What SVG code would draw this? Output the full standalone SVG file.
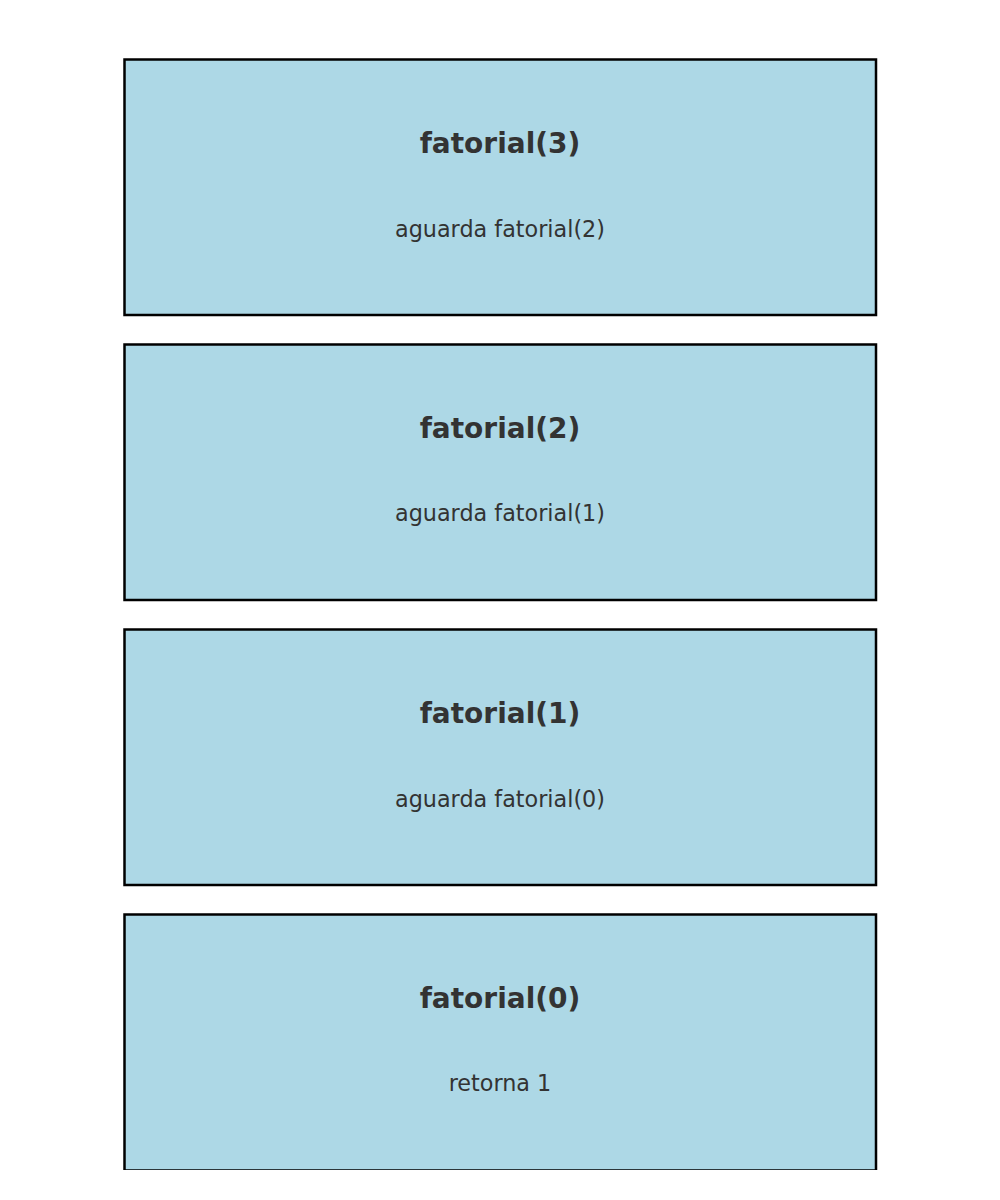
<svg xmlns="http://www.w3.org/2000/svg" width="1000" height="1200" viewBox="0 0 1000 1200">
<style>
.box{fill:#add8e6;stroke:#000;stroke-width:2.5}
.t{font-family:"DejaVu Sans",sans-serif;font-size:28px;font-weight:bold;fill:#333;text-anchor:middle}
.s{font-family:"DejaVu Sans",sans-serif;font-size:22.3px;fill:#333;text-anchor:middle}
</style>
<defs><clipPath id="c"><rect x="0" y="0" width="1000" height="1170"/></clipPath></defs>
<rect width="1000" height="1200" fill="#fff"/>
<g clip-path="url(#c)">
<g id="f3"><rect class="box" x="124.5" y="59.5" width="751.5" height="255.5"/><text class="t" x="500" y="153">fatorial(3)</text><text class="s" x="500" y="237">aguarda fatorial(2)</text></g>
<g id="f2"><rect class="box" x="124.5" y="344.5" width="751.5" height="255.5"/><text class="t" x="500" y="438">fatorial(2)</text><text class="s" x="500" y="521">aguarda fatorial(1)</text></g>
<g id="f1"><rect class="box" x="124.5" y="629.5" width="751.5" height="255.5"/><text class="t" x="500" y="723">fatorial(1)</text><text class="s" x="500" y="807">aguarda fatorial(0)</text></g>
<g id="f0"><rect class="box" x="124.5" y="914.5" width="751.5" height="256"/><text class="t" x="500" y="1008">fatorial(0)</text><text class="s" x="500" y="1091">retorna 1</text></g>
</g>
<g id="connectors"/>
</svg>
